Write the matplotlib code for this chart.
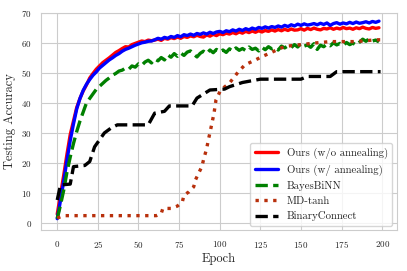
import numpy as np
import matplotlib
matplotlib.use("Agg")
import matplotlib.pyplot as plt
import seaborn as sns

# every 2 epochs
epochs = np.arange(0, 200, 2)

ours_no_anneal = [3.0, 9.5, 16, 23, 29.5, 34, 38.5, 41.5, 44, 46,
                  48.3, 49.8, 51.2, 52.3, 53.4, 54.2, 55.0, 55.9, 56.8, 57.4,
                  58.1, 58.7, 58.6, 59.4, 59.8, 60.2, 60.6, 60.4, 60.9, 60.7,
                  60.9, 61.2, 60.8, 61.5, 61.2, 61.7, 61.4, 61.9, 61.5, 62.1,
                  61.8, 62.3, 62.0, 62.5, 62.1, 61.9, 62.6, 62.2, 62.8, 62.4,
                  63.0, 62.7, 63.2, 62.9, 63.4, 63.0, 63.6, 63.2, 63.8, 63.4,
                  63.9, 63.5, 64.0, 63.6, 64.1, 63.8, 64.3, 63.9, 64.4, 64.0,
                  64.5, 64.1, 64.6, 64.2, 64.3, 64.7, 64.2, 64.8, 64.4, 64.9,
                  64.5, 64.3, 64.8, 64.6, 65.0, 64.5, 64.9, 64.6, 65.1, 64.7,
                  64.9, 64.5, 65.0, 64.7, 65.2, 64.8, 64.6, 65.1, 64.8, 65.0]

ours_anneal = [1.5, 7.5, 14, 21, 27.5, 33, 38, 41.5, 44.2, 46.2,
               47.8, 49.2, 50.3, 51.6, 52.5, 53.4, 54.3, 55.0, 55.8, 56.4,
               57.2, 57.8, 58.2, 58.7, 59.2, 59.6, 60.0, 60.2, 60.5, 60.6,
               61.0, 61.5, 61.2, 61.8, 61.5, 62.1, 61.8, 62.4, 62.0, 62.7,
               62.4, 62.9, 62.5, 63.1, 62.8, 63.3, 62.9, 63.5, 63.1, 63.6,
               63.8, 63.4, 64.0, 63.7, 64.3, 63.9, 64.5, 64.1, 64.7, 64.3,
               64.9, 64.5, 65.1, 64.8, 65.3, 64.9, 65.4, 65.1, 65.6, 65.2,
               65.8, 65.4, 66.0, 65.6, 66.2, 65.8, 66.3, 65.9, 66.1, 66.4,
               66.0, 66.5, 66.1, 66.6, 65.8, 66.4, 66.7, 66.2, 66.6, 66.3,
               66.8, 66.4, 66.9, 66.5, 66.7, 67.0, 66.6, 67.1, 66.8, 67.2]

bayesbinn = [1.5, 6, 11, 17, 22, 26.5, 30.5, 34, 37, 40,
             41.5, 43, 44.5, 45.5, 46.5, 47.5, 48.3, 49.2, 49.8, 50.6,
             50.9, 51.6, 51.2, 52.3, 51.9, 53.0, 52.5, 53.6, 54.2, 53.3,
             54.6, 54.0, 55.1, 54.3, 56.0, 55.2, 56.4, 55.5, 56.6, 55.8,
             56.9, 57.3, 56.2, 55.3, 56.5, 57.2, 56.4, 57.6, 56.7, 57.8,
             57.0, 57.6, 56.8, 58.0, 57.2, 58.3, 57.5, 58.1, 57.4, 58.6,
             57.8, 58.2, 57.3, 58.5, 57.7, 58.7, 58.0, 58.4, 57.6, 58.9,
             58.3, 59.0, 58.4, 59.4, 58.6, 59.8, 58.9, 59.3, 58.5, 59.7,
             57.8, 59.2, 58.7, 59.6, 59.0, 60.0, 59.3, 59.8, 59.1, 60.1,
             59.4, 59.9, 59.2, 60.2, 61.2, 60.5, 61.4, 60.6, 60.9, 60.3]

md_epochs = [0, 4, 10, 20, 40, 61, 64, 65, 70, 74, 77, 78, 81, 84, 85, 87, 89, 90, 92, 93,
             94, 95, 96.5, 97.7, 100.6, 106, 111.5, 115.6, 122, 126, 131, 140, 148.5, 158,
             168, 174, 184, 196, 199]
md_tanh = [1.7, 2.5, 2.5, 2.5, 2.5, 2.5, 3.2, 4.9, 4.9, 5.7, 7.1, 9.3, 10.4, 12.1, 14.3, 16.6,
           18.8, 21, 24.9, 27.7, 30.1, 32.7, 36.6, 41, 44.3, 46.6, 50.4, 52.7, 54.3, 55.4,
           56.6, 58.8, 59.3, 59.9, 60.4, 60.4, 60.4, 61, 61]

bc_epochs = [0, 2, 8, 10, 17, 20, 23, 29, 33, 37, 56, 60, 66, 69, 83, 86, 94, 103, 106, 114,
             125, 150, 154, 168, 172, 199]
binaryconnect = [7.7, 12.7, 13, 18.8, 19.2, 20.5, 25.4, 30, 31.6, 32.7, 32.7, 36.6, 37.2, 39,
                 39, 41.6, 44.3, 44.6, 45.4, 46.8, 47.9, 47.9, 48.8, 48.8, 50.4, 50.4]

sns.set_style("whitegrid")
plt.rcParams['font.family'] = 'serif'
plt.rcParams['font.serif'] = ['cmr10', 'DejaVu Serif']
plt.rcParams['axes.formatter.use_mathtext'] = True

fig = plt.figure(figsize=(4.07, 2.71), dpi=100)
ax = fig.add_axes([0.1007, 0.151, 0.8743, 0.802])

lw = 2.4
ax.plot(epochs, ours_no_anneal, color='red', lw=lw, label='Ours (w/o annealing)')
ax.plot(epochs, ours_anneal, color='blue', lw=lw, label='Ours (w/ annealing)')
ax.plot(epochs, bayesbinn, color='green', lw=lw, ls='--', label='BayesBiNN')
ax.plot(md_epochs, md_tanh, color='#b8300c', lw=lw, ls=':', label='MD-tanh')
ax.plot(bc_epochs, binaryconnect, color='black', lw=lw, ls='--', label='BinaryConnect')

ax.set_xlim(-10, 209)
ax.set_ylim(-2.3, 70)
ax.set_xticks([0, 25, 50, 75, 100, 125, 150, 175, 200])
ax.set_yticks([0, 10, 20, 30, 40, 50, 60, 70])
ax.tick_params(labelsize=6.5, pad=3)
ax.set_xlabel('Epoch', fontsize=9, labelpad=2)
ax.set_ylabel('Testing Accuracy', fontsize=9, labelpad=4)
ax.legend(loc='lower right', fontsize=7.8, handlelength=2.2, borderaxespad=0.4)

fig.savefig('out.png', dpi=100)
